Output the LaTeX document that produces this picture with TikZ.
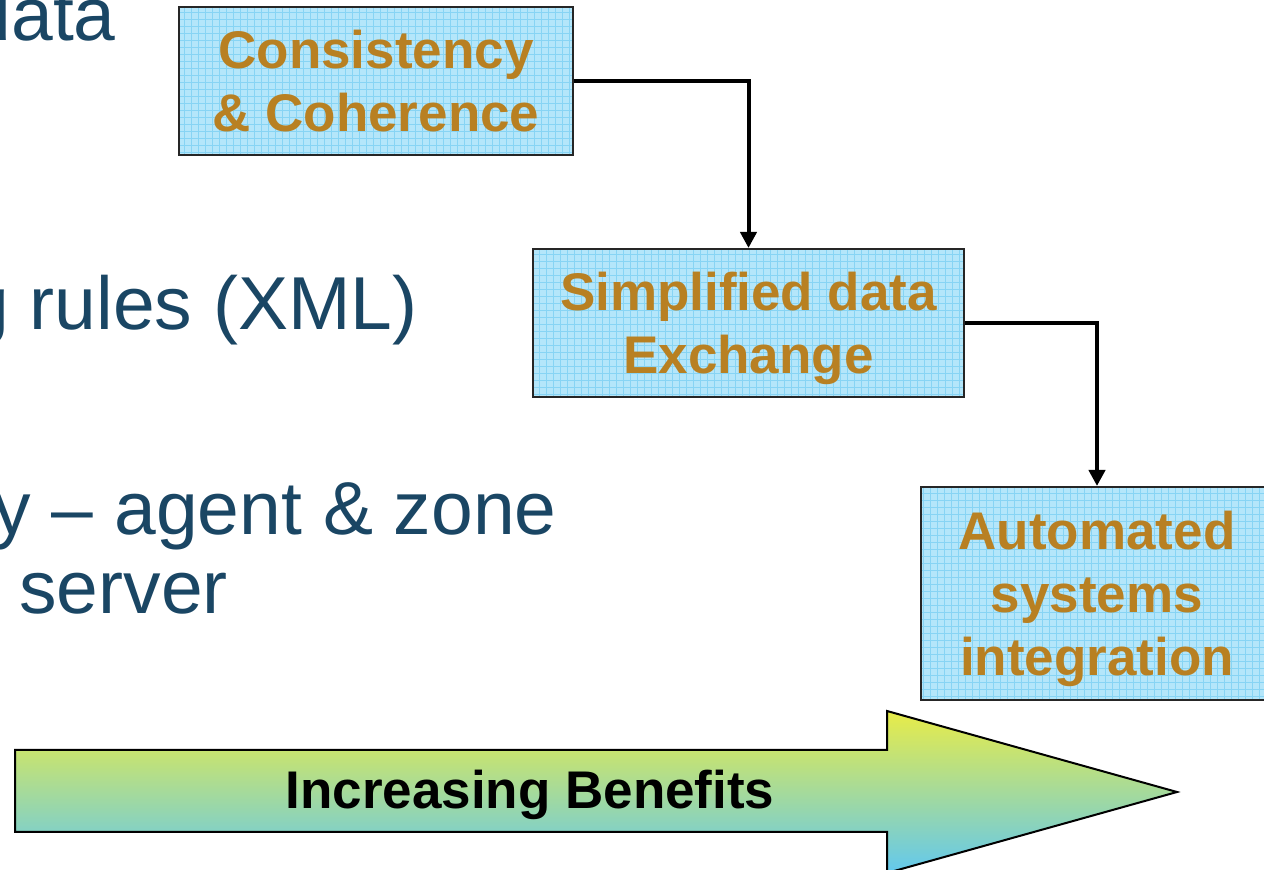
\documentclass[tikz,border=0pt]{standalone}
\usepackage{fontspec}
\setmainfont{Liberation Sans}
\usetikzlibrary{arrows.meta}
\definecolor{slideblue}{RGB}{26,70,100}
\definecolor{boxblue}{RGB}{180,230,250}
\definecolor{gridblue}{RGB}{135,212,244}
\definecolor{boxgold}{RGB}{184,128,34}
\definecolor{arrowyellow}{RGB}{232,236,72}
\definecolor{arrowmid}{RGB}{196,226,158}
\definecolor{arrowcyan}{RGB}{98,200,238}
\begin{document}
\begin{tikzpicture}[x=0.5pt,y=-0.5pt,
    slide/.style={text=slideblue, inner sep=0pt, font=\fontsize{37.5}{44}\selectfont},
    benefit/.style={draw=black!85, line width=1pt, fill=boxblue, inner sep=0pt,
        align=center, text=boxgold, font=\fontsize{26.5}{31.5}\selectfont\bfseries,
        text depth=-2pt,
        path picture={\draw[gridblue, line width=0.3pt, step=3.5pt]
            (path picture bounding box.south west) grid (path picture bounding box.north east);}},
    link/.style={line width=2pt, -{Triangle[length=8pt,width=8pt]}}]

    \useasboundingbox (0,0) rectangle (1264,870);
    \clip (0,0) rectangle (1264,870);

    % bullet text of the slide, cut at the left
    \node[slide, anchor=base east] (data) at (116,41) {data};
    \node[slide, anchor=base east] (rules) at (418,330) {g rules (XML)};
    \node[slide, anchor=base east] (agent) at (557,535) {y -- agent \& zone};
    \node[slide, anchor=base west] (server) at (19,614) {server};

    % the three steps
    \node[benefit, minimum width=197pt, minimum height=74pt] (cons) at (376,81)
        {Consistency\\\& Coherence};
    \node[benefit, minimum width=215.5pt, minimum height=74pt] (exch) at (748.5,323)
        {Simplified data\\Exchange};
    \node[benefit, minimum width=176pt, minimum height=106.5pt] (auto) at (1097,593.5)
        {Automated\\systems\\integration};

    \draw[link] (cons.east) -| (exch.north);
    \draw[link] (exch.east) -| (auto.north);

    % big arrow
    \shade[top color=arrowyellow, middle color=arrowmid, bottom color=arrowcyan, draw=black, line width=1pt]
        (15,750)--(887,750)--(887,711)--(1177,792)--(887,873)--(887,832)--(15,832)--cycle;
    \node[font=\fontsize{26.5}{31.5}\selectfont\bfseries] (benefits) at (530,795) {Increasing Benefits};

\end{tikzpicture}
\end{document}
